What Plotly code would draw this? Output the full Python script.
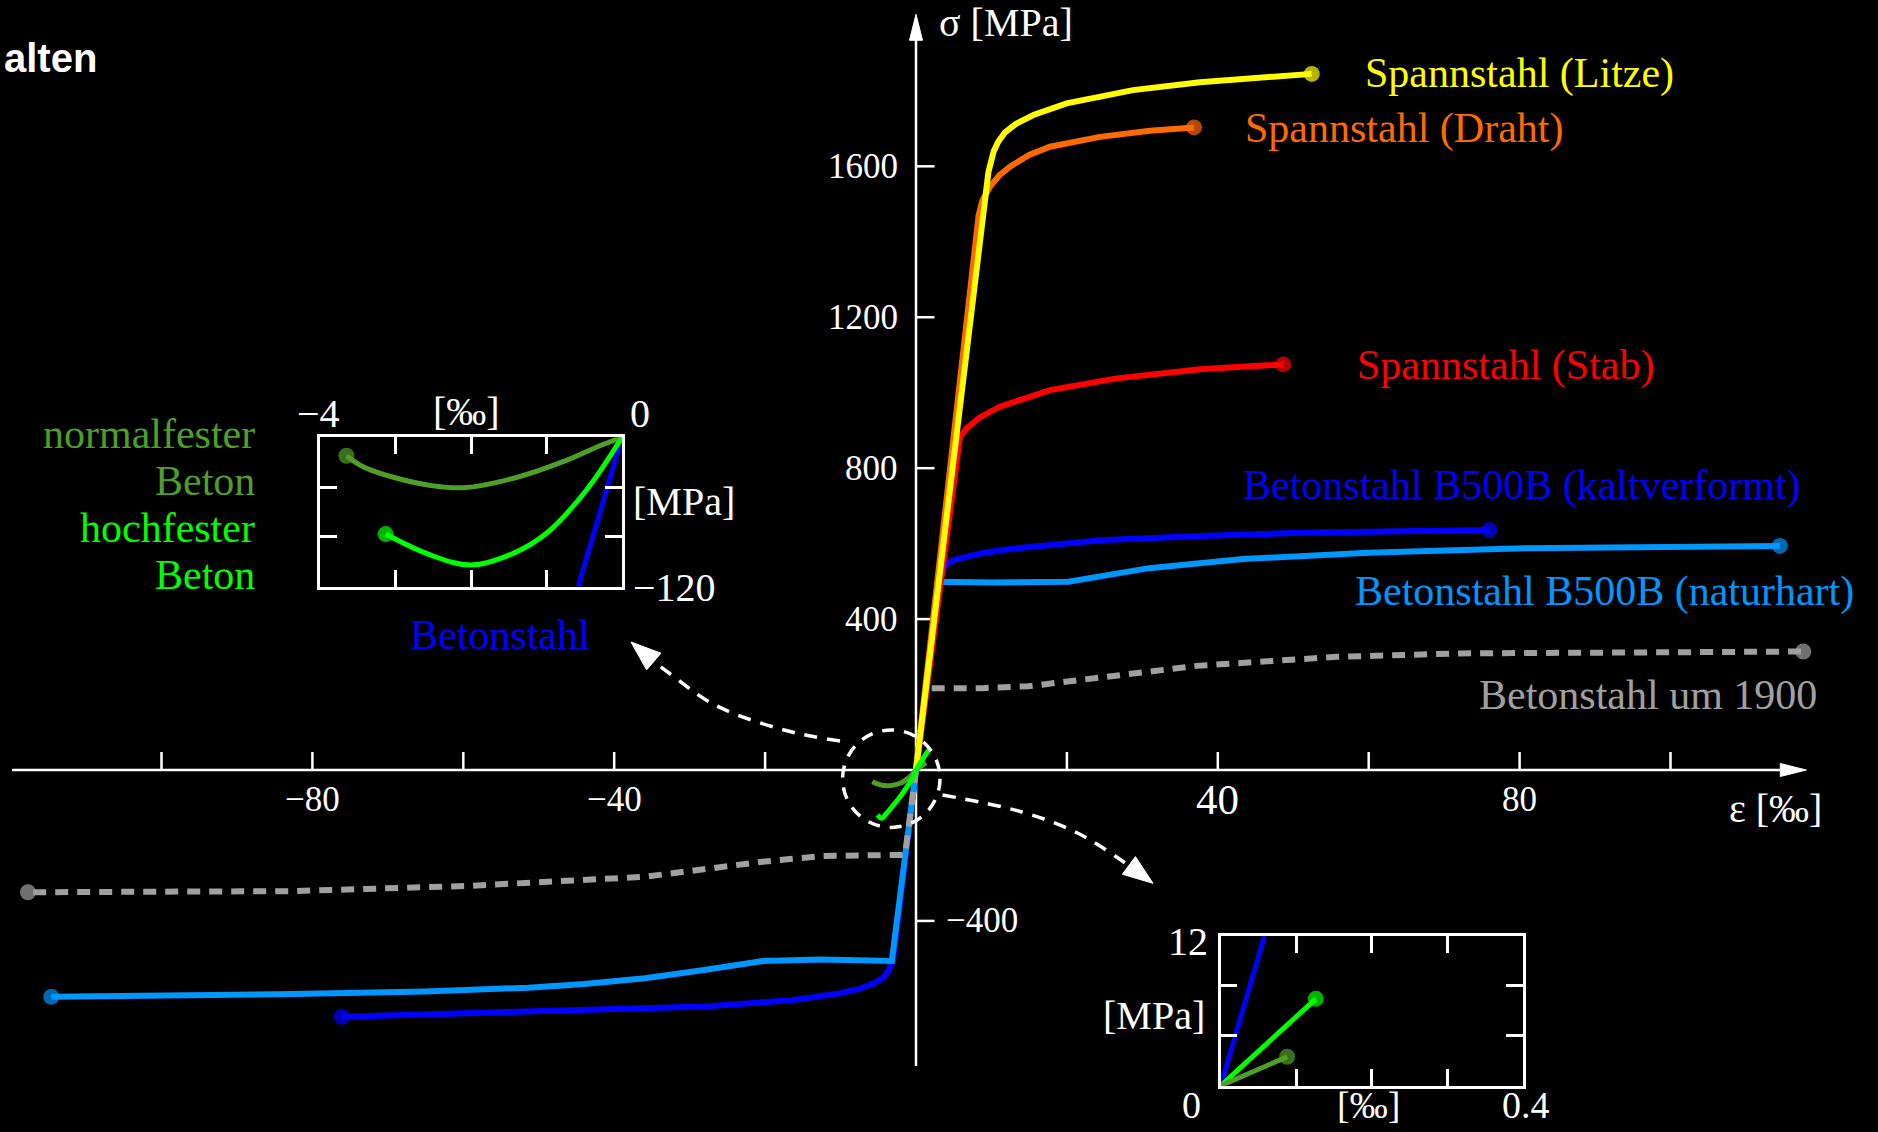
import math
import plotly.graph_objects as go

# ---------------- figure geometry (pixels) ----------------
W, H = 1878, 1132
X0, Y0 = 916.0, 770.0        # pixel position of the origin
SX, SY = 7.545, 0.3773       # pixels per permille, pixels per MPa

def d_x(px):
    return (px - X0) / SX

def d_y(py):
    return (Y0 - py) / SY

def p_x(px):
    return px / W

def p_y(py):
    return 1 - py / H

# ---------------- colours ----------------
YELLOW = "#FFFF00"
ORANGE = "#FF6A00"
RED = "#FF0000"
BLUE = "#0000FF"
LBLUE = "#0096FF"
GRAY = "#A0A0A0"
DKGREEN = "#4E9F28"
GREEN = "#00FF00"
WHITE = "#FFFFFF"
SERIF = "Liberation Serif"

# ---------------- data: main diagram (strain in permille, stress in MPa) ----------------
litze_eps = [0, 9.6, 10.3, 10.9, 11.8, 13.2, 15.55, 19.97, 28.76, 37.64, 52.45]
litze_sig = [0, 1585, 1640, 1665, 1690, 1712, 1736, 1767, 1802, 1823, 1845]

draht_eps = [0, 8.3, 8.8, 9.81, 11.0, 12.46, 15.0, 17.76, 24.39, 31.0, 36.85]
draht_sig = [0, 1470, 1510, 1546, 1575, 1599, 1630, 1652, 1678, 1694, 1703]

stab_eps = [0, 5.5, 5.83, 6.72, 8.5, 11.13, 17.76, 26.6, 37.64, 48.68]
stab_sig = [0, 860, 883, 906, 935, 963, 1007, 1038, 1062, 1075]

kalt_t_eps = [0, 3.3, 3.6, 4.2, 5.2, 6.7, 9.0, 13.35, 24.39, 37.64, 50.9, 76.0]
kalt_t_sig = [0, 515, 530, 548, 558, 566, 576, 588, 609, 620, 629, 636]
kalt_c_eps = [0, -3.05, -3.6, -4.3, -5.5, -7.5, -10.2, -16.4, -28.1, -51.4, -76.1]
kalt_c_sig = [0, -504, -530, -550, -565, -580, -592, -610, -627, -641, -654]

natur_t_eps = [0, 3.25, 10.0, 20.2, 30.9, 43.3, 59.9, 80.6, 114.5]
natur_t_sig = [0, 499, 497, 499, 535, 559, 576, 588, 594]
natur_c_eps = [0, -3.2, -12.5, -20.3, -28.1, -35.9, -44.0, -51.4, -65.0, -82.5, -114.6]
natur_c_sig = [0, -506, -502, -506, -530, -552, -567, -577, -587, -594, -601]

alt_t_eps = [0, 1.35, 3.25, 8.8, 14.9, 21.5, 29.1, 37.2, 55.8, 72.2, 117.6]
alt_t_sig = [0, 217, 217, 217, 222, 238, 256, 276, 300, 309, 314]
alt_c_eps = [0, -1.45, -2.4, -12.5, -20.3, -35.9, -59.2, -82.5, -117.7]
alt_c_sig = [0, -225, -225, -228, -243, -283, -307, -321, -324]

nf_eps = [-5.8, -4.8, -3.9, -3.0, -2.1, -1.4, -0.8, 0, 1.35]
nf_sig = [-31, -39, -42, -40, -35, -27, -18, 0, 19]
hf_eps = [-5.1, -4.55, -3.9, -3.0, -2.1, -1.2, -0.36, 0, 1.7]
hf_sig = [-119, -128, -115, -93, -71, -45, -18, 0, 53]

# ---------------- data: inset 1 (compression zoom) ----------------
in1_nf_eps = [-3.65, -3.43, -2.98, -2.5, -2.1, -1.44, -0.78, -0.3, 0]
in1_nf_sig = [-14.8, -23.6, -32.9, -39, -40.5, -33, -19.6, -7, 0]
in1_hf_eps = [-3.13, -2.54, -2.0, -1.44, -1.0, -0.47, 0]
in1_hf_sig = [-77.7, -94.5, -102.6, -93.2, -77.1, -42.3, 0]
in1_st_eps = [0, -0.58]
in1_st_sig = [0, -120]

# ---------------- data: inset 2 (tension zoom) ----------------
in2_st_eps = [0, 0.058]
in2_st_sig = [0, 12]
in2_hf_eps = [0, 0.126]
in2_hf_sig = [0, 6.96]
in2_nf_eps = [0, 0.088]
in2_nf_sig = [0, 2.32]

# ---------------- axis ticks ----------------
x_ticks = [-100, -80, -60, -40, -20, 20, 40, 60, 80, 100]
x_tick_labels = {-80: "−80", -40: "−40", 40: "40", 80: "80"}
y_ticks = [-400, 400, 800, 1200, 1600]
y_tick_labels = {400: "400", 800: "800", 1200: "1200", 1600: "1600"}

# axis extents
X_AX_MIN, X_AX_TIP = -119.8, 118.0
Y_AX_MIN, Y_AX_TIP = -784.5, 2003.0

fig = go.Figure()

LW = 6
MS = 16

def line(x, y, color, width=LW, dash=None, end_marker=None, shape="linear",
         xaxis="x", yaxis="y"):
    sizes = [0] * len(x)
    if end_marker is not None:
        sizes[end_marker] = MS
    fig.add_trace(go.Scatter(
        x=x, y=y, mode="lines+markers" if end_marker is not None else "lines",
        line=dict(color=color, width=width, dash=dash, shape=shape),
        marker=dict(size=sizes, color=color, line=dict(width=0)),
        xaxis=xaxis, yaxis=yaxis, hoverinfo="skip", showlegend=False))

DASH = "13px,9px"

# ---------------- main axes (drawn through the data scale) ----------------
fig.add_trace(go.Scatter(x=[X_AX_MIN, X_AX_TIP - 26 / SX], y=[0, 0], mode="lines",
                         line=dict(color=WHITE, width=2.5), hoverinfo="skip", showlegend=False))
fig.add_trace(go.Scatter(x=[0, 0], y=[Y_AX_MIN, Y_AX_TIP - 26 / SY], mode="lines",
                         line=dict(color=WHITE, width=2.5), hoverinfo="skip", showlegend=False))
# arrow heads
fig.add_trace(go.Scatter(x=[X_AX_TIP, X_AX_TIP - 26 / SX, X_AX_TIP - 26 / SX, X_AX_TIP],
                         y=[0, 6.5 / SY, -6.5 / SY, 0], mode="lines", fill="toself",
                         fillcolor=WHITE, line=dict(color=WHITE, width=1),
                         hoverinfo="skip", showlegend=False))
fig.add_trace(go.Scatter(x=[0, 6.5 / SX, -6.5 / SX, 0],
                         y=[Y_AX_TIP, Y_AX_TIP - 26 / SY, Y_AX_TIP - 26 / SY, Y_AX_TIP],
                         mode="lines", fill="toself", fillcolor=WHITE,
                         line=dict(color=WHITE, width=1), hoverinfo="skip", showlegend=False))
# tick marks
tx, ty = [], []
for v in x_ticks:
    tx += [v, v, None]
    ty += [0, 18 / SY, None]
for v in y_ticks:
    tx += [0, 18.5 / SX, None]
    ty += [v, v, None]
fig.add_trace(go.Scatter(x=tx, y=ty, mode="lines", line=dict(color=WHITE, width=2.5),
                         hoverinfo="skip", showlegend=False))

# ---------------- curves (tension) ----------------
line(alt_t_eps, alt_t_sig, GRAY, dash=DASH, end_marker=-1)
line(natur_t_eps, natur_t_sig, LBLUE, end_marker=-1)
line(kalt_t_eps, kalt_t_sig, BLUE, end_marker=-1)
line(stab_eps, stab_sig, RED, end_marker=-1)
line(draht_eps, draht_sig, ORANGE, end_marker=-1)
line(litze_eps, litze_sig, YELLOW, end_marker=-1)
# compression
line(kalt_c_eps, kalt_c_sig, BLUE, end_marker=-1)
line(natur_c_eps, natur_c_sig, LBLUE, end_marker=-1)
line(alt_c_eps, alt_c_sig, GRAY, dash=DASH, end_marker=-1)
# concrete
line(nf_eps, nf_sig, DKGREEN, width=5, shape="spline")
line(hf_eps, hf_sig, GREEN, width=5, shape="spline")

# ---------------- magnifier circle & dashed arrows (pixel layout) ----------------
circ_cx, circ_cy, circ_r = 891.3, 778.7, 48.7
fig.add_shape(type="circle", xref="x", yref="y",
              x0=d_x(circ_cx - circ_r), x1=d_x(circ_cx + circ_r),
              y0=d_y(circ_cy + circ_r), y1=d_y(circ_cy - circ_r),
              line=dict(color=WHITE, width=3.5, dash="12px,10px"))

arrow_paths = [
    ([840, 784, 715, 669, 652], [741, 730, 705, 673, 660], (631, 642)),
    ([942.5, 1021, 1078, 1131], [795, 811.7, 833.3, 867], (1153, 883.3)),
]
for pxs, pys, tip in arrow_paths:
    fig.add_trace(go.Scatter(x=[d_x(p) for p in pxs], y=[d_y(p) for p in pys],
                             mode="lines", line=dict(color=WHITE, width=3.5, dash="13px,10px",
                                                     shape="spline"),
                             hoverinfo="skip", showlegend=False))
    bx, by = pxs[-1], pys[-1]
    tx_, ty_ = tip
    L = math.hypot(tx_ - bx, ty_ - by)
    ux, uy = (tx_ - bx) / L, (ty_ - by) / L
    hl, hw = 30, 11
    bbx, bby = tx_ - ux * hl, ty_ - uy * hl
    nx, ny = -uy, ux
    tri_px = [tx_, bbx + nx * hw, bbx - nx * hw, tx_]
    tri_py = [ty_, bby + ny * hw, bby - ny * hw, ty_]
    fig.add_trace(go.Scatter(x=[d_x(p) for p in tri_px], y=[d_y(p) for p in tri_py],
                             mode="lines", fill="toself", fillcolor=WHITE,
                             line=dict(color=WHITE, width=1), hoverinfo="skip",
                             showlegend=False))

# ---------------- inset 1 ----------------
line(in1_st_eps, in1_st_sig, BLUE, width=5, xaxis="x2", yaxis="y2")
line(in1_nf_eps, in1_nf_sig, DKGREEN, width=5, end_marker=0, shape="spline", xaxis="x2", yaxis="y2")
line(in1_hf_eps, in1_hf_sig, GREEN, width=5, end_marker=0, shape="spline", xaxis="x2", yaxis="y2")

# ---------------- inset 2 ----------------
line(in2_st_eps, in2_st_sig, BLUE, width=5, xaxis="x3", yaxis="y3")
line(in2_hf_eps, in2_hf_sig, GREEN, width=5, end_marker=-1, xaxis="x3", yaxis="y3")
line(in2_nf_eps, in2_nf_sig, DKGREEN, width=5, end_marker=-1, xaxis="x3", yaxis="y3")

# ---------------- annotations ----------------
ann = []

def text(t, px, py, color=WHITE, size=42, anchor="left", family=SERIF):
    ann.append(dict(text=t, x=p_x(px), y=p_y(py), xref="paper", yref="paper",
                    xanchor=anchor, yanchor="middle", showarrow=False,
                    font=dict(family=family, size=size, color=color)))

# main tick labels
for v, t in x_tick_labels.items():
    ann.append(dict(text=t, x=v, y=d_y(799), xref="x", yref="y", xanchor="center",
                    yanchor="middle", showarrow=False,
                    font=dict(family=SERIF, size=43 if v == 40 else 35, color=WHITE)))
for v, t in y_tick_labels.items():
    ann.append(dict(text=t, x=d_x(900), y=v, xref="x", yref="y", xanchor="right",
                    yanchor="middle", showarrow=False,
                    font=dict(family=SERIF, size=35, color=WHITE)))
ann.append(dict(text="−400", x=d_x(944), y=-400, xref="x", yref="y", xanchor="left",
                yanchor="middle", showarrow=False, font=dict(family=SERIF, size=35, color=WHITE)))

# axis titles
text("σ [MPa]", 937, 22, size=40)
text("ε [‰]", 1727, 808, size=40)

# curve labels
text("Spannstahl (Litze)", 1363, 73, YELLOW)
text("Spannstahl (Draht)", 1243, 128, ORANGE)
text("Spannstahl (Stab)", 1355, 365, RED)
text("Betonstahl B500B (kaltverformt)", 1241, 486, BLUE)
text("Betonstahl B500B (naturhart)", 1353, 591, LBLUE)
text("Betonstahl um 1900", 1819, 695, GRAY, anchor="right")
text("normalfester", 257, 434, DKGREEN, anchor="right")
text("Beton", 257, 481, DKGREEN, anchor="right")
text("hochfester", 257, 528, GREEN, anchor="right")
text("Beton", 257, 575, GREEN, anchor="right")
text("Betonstahl", 500, 635, BLUE, anchor="center")

# inset 1 labels
text("−4", 318, 414, size=40, anchor="center")
text("[‰]", 466, 412, size=40, anchor="center")
text("0", 640, 414, size=40, anchor="center")
text("[MPa]", 631, 501, size=40)
text("−120", 631, 587, size=40)

# inset 2 labels
text("12", 1210, 941, size=40, anchor="right")
text("[MPa]", 1207, 1015, size=40, anchor="right")
text("0", 1191, 1105, size=38, anchor="center")
text("[‰]", 1368, 1105, size=38, anchor="center")
text("0.4", 1500, 1105, size=38)

# title fragment (kept fully visible at the left edge)
text("<b>alten</b>", 2, 58, WHITE, size=40, anchor="left", family="Liberation Sans")

box = dict(showline=True, linecolor=WHITE, linewidth=2.5, mirror="allticks", ticks="inside",
           ticklen=17, tickwidth=2.5, tickcolor=WHITE, showticklabels=False,
           showgrid=False, zeroline=False, fixedrange=True)

fig.update_layout(
    width=W, height=H, margin=dict(l=0, r=0, t=0, b=0, pad=0),
    paper_bgcolor="black", plot_bgcolor="black", showlegend=False,
    xaxis=dict(range=[d_x(0), d_x(W)], visible=False, domain=[0, 1], fixedrange=True),
    yaxis=dict(range=[d_y(H), d_y(0)], visible=False, domain=[0, 1], fixedrange=True),
    xaxis2=dict(box, range=[-4, 0], tickvals=[-3, -2, -1], anchor="y2",
                domain=[p_x(320), p_x(622)]),
    yaxis2=dict(box, range=[-120, 0], tickvals=[-80, -40], anchor="x2",
                domain=[p_y(586.7), p_y(437.3)]),
    xaxis3=dict(box, range=[0, 0.4], tickvals=[0.1, 0.2, 0.3], anchor="y3",
                domain=[p_x(1220.7), p_x(1522.7)]),
    yaxis3=dict(box, range=[0, 12], tickvals=[4, 8], anchor="x3",
                domain=[p_y(1085.7), p_y(936)]),
    annotations=ann,
)

fig.write_html("out.html", include_plotlyjs=True, config={"displayModeBar": False},
               post_script="document.body.style.margin='0';document.body.style.background='black';")
